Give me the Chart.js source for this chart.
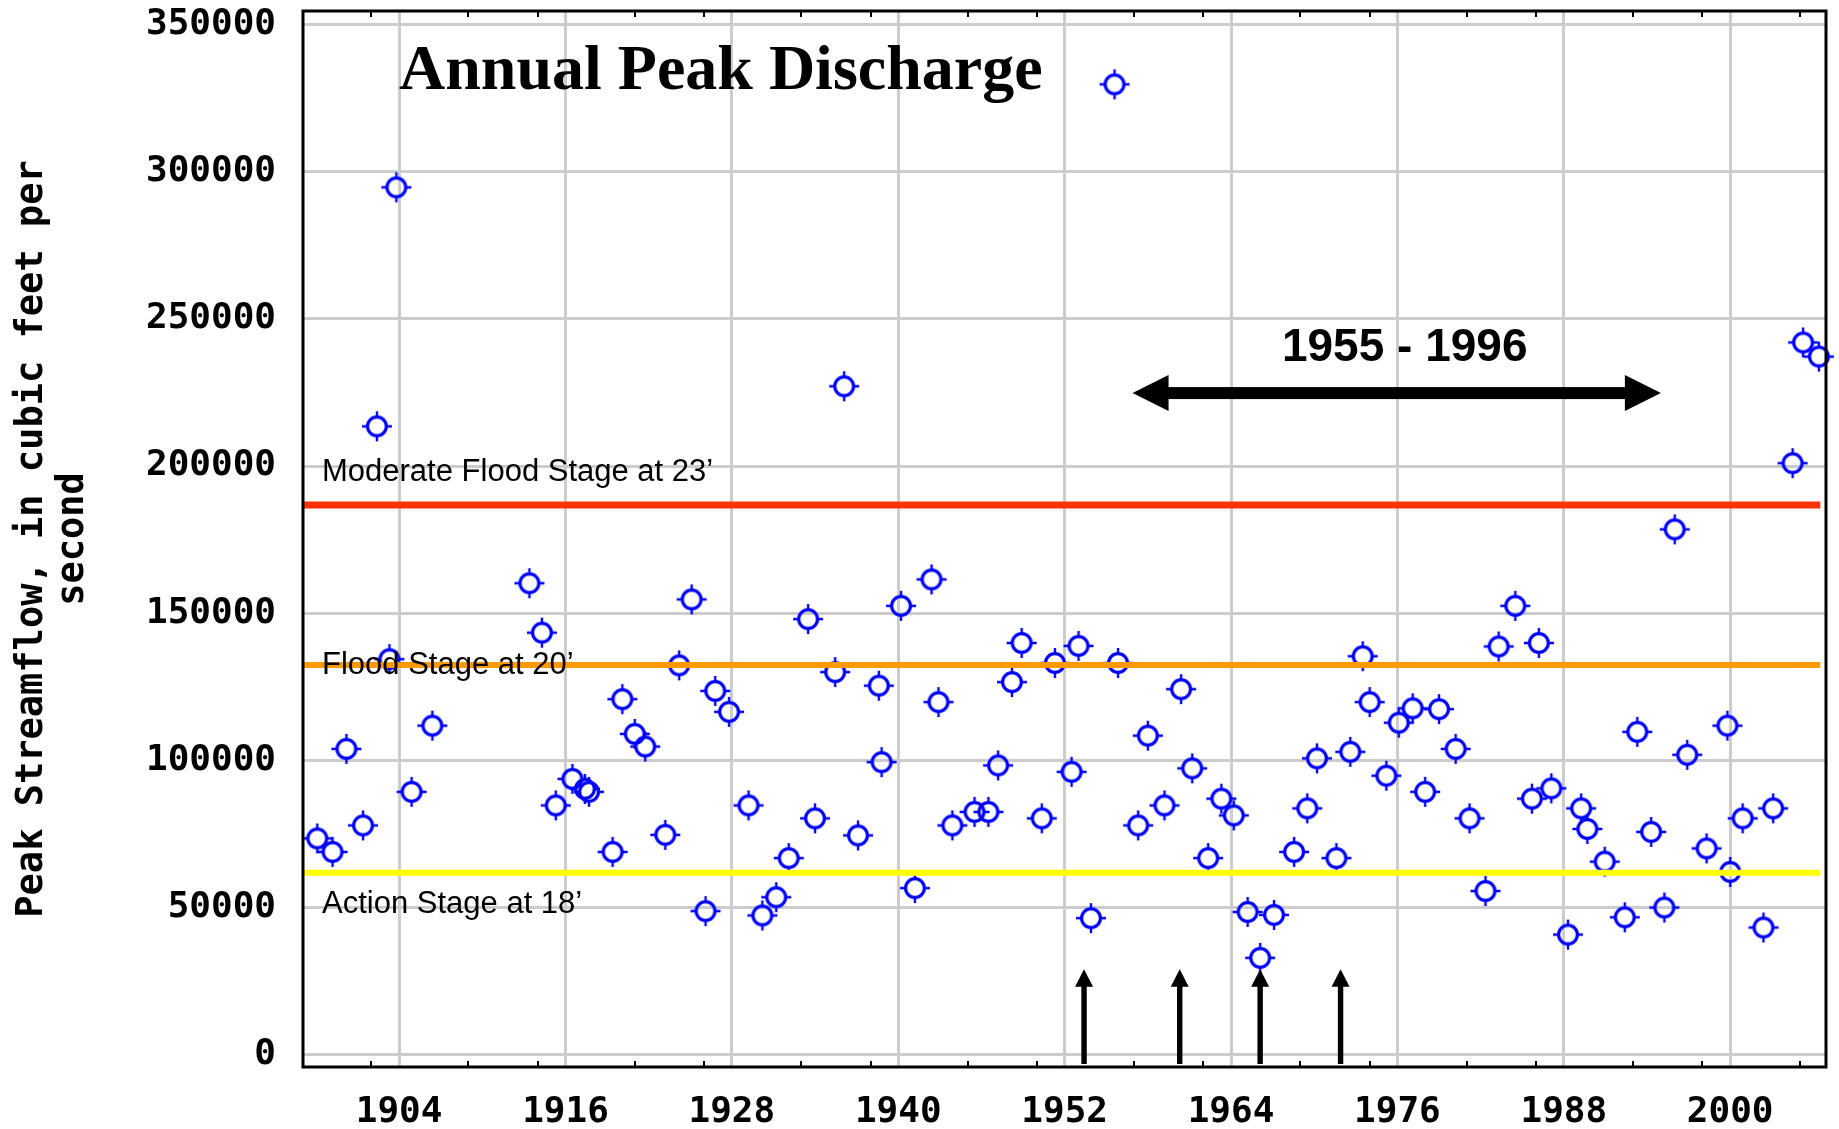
<!DOCTYPE html>
<html>
<head>
<meta charset="utf-8">
<title>Annual Peak Discharge</title>
<script src="https://cdn.jsdelivr.net/npm/chart.js@4.4.1/dist/chart.umd.min.js"></script>
<style>
  html, body { margin: 0; padding: 0; background: #fff; }
  #peakChart { display: block; }
</style>
</head>
<body>
<canvas id="peakChart" width="1839" height="1129"></canvas>
<script>
// annual peaks (x = date of peak in decimal years)
const peakYears = [
  1898.1, 1899.2, 1900.2, 1901.4, 1902.4, 1903.3, 1903.8, 1904.9, 1906.4,
  1913.4, 1914.3, 1915.3, 1916.5, 1917.4, 1917.7, 1919.4, 1920.1, 1921.0, 1921.75,
  1923.2, 1924.2, 1925.1, 1926.1, 1926.8, 1927.8, 1929.2, 1930.2, 1931.2, 1932.1,
  1933.5, 1934.0, 1935.45, 1936.1, 1937.1, 1938.6, 1938.8, 1940.2, 1941.2, 1942.4,
  1942.9, 1943.9, 1945.5, 1946.5, 1947.2, 1948.2, 1948.9, 1950.35, 1951.3, 1952.5,
  1953.0, 1953.9, 1955.6, 1955.85, 1957.3, 1958.0, 1959.2, 1960.4, 1961.2, 1962.35,
  1963.3, 1964.2, 1965.2, 1966.1, 1967.1, 1968.55, 1969.5, 1970.2, 1971.6, 1972.6,
  1973.5, 1974.0, 1975.2, 1976.1, 1977.1, 1978.0, 1979.0, 1980.2, 1981.2, 1982.35,
  1983.3, 1984.5, 1985.7, 1986.2, 1987.1, 1988.3, 1989.25, 1989.7, 1990.95, 1992.4,
  1993.3, 1994.3, 1995.25, 1996.0, 1996.9, 1998.3, 1999.8, 2000.0, 2000.9, 2002.4,
  2003.1, 2004.5, 2005.26, 2006.4
];
const peakFlows = [
  73500, 68900, 103900, 77900, 213500, 134400, 294700, 89300, 111800,
  160200, 143400, 84700, 93700, 90300, 89300, 68900, 120800, 109000, 104700,
  74700, 132300, 154700, 48800, 123600, 116500, 84700, 47300, 53500, 66800,
  148000, 80300, 130000, 227100, 74500, 125400, 99400, 152500, 56600, 161500,
  119800, 77900, 82500, 82500, 98300, 126600, 139900, 80300, 133100, 96100,
  138900, 46400, 329700, 133100, 77900, 108400, 84700, 124200, 97300, 66800,
  87000, 81300, 48500, 32900, 47500, 68900, 83700, 100700, 66800, 102900,
  135400, 119800, 94800, 112800, 117700, 89300, 117400, 103900, 80300, 55600,
  138700, 152500, 87000, 139900, 90500, 40800, 83700, 76700, 65600, 46700,
  109700, 75700, 50000, 178500, 101900, 70100, 111800, 62100, 80300, 43200,
  83700, 201000, 242000, 237200
];

// stage reference lines
const stageLabels = ["Moderate Flood Stage at 23\u2019", "Flood Stage at 20\u2019", "Action Stage at 18\u2019"];
const stageFlows = [186800, 132400, 61800];
const stageColors = ["#ff3300", "#ff9900", "#ffff00"];
const stageEndYear = 2006.5;

// axes
const xTickYears = [1904, 1916, 1928, 1940, 1952, 1964, 1976, 1988, 2000];
const minorTickYears = [1902, 1909, 1914, 1921, 1926, 1933, 1938, 1945, 1950, 1957,
  1962, 1969, 1974, 1981, 1986, 1993, 1998, 2005];
const yTickValues = [0, 50000, 100000, 150000, 200000, 250000, 300000, 350000];
const xMin = 1897.07, xMax = 2006.91;
const yMin = -4180, yMax = 354620;

// annotations
const periodLabel = "1955 - 1996";
const periodArrowYears = [1956.9, 1995.0];
const periodArrowFlow = 224800;
const markerArrowYears = [1953.4, 1960.3, 1966.1, 1971.9];
const markerArrowTipFlow = 29000;

const monoFont = "'DejaVu Sans Mono', monospace";

function makeMarker() {
  const c = document.createElement("canvas");
  c.width = 32;
  c.height = 32;
  const g = c.getContext("2d");
  g.strokeStyle = "#0000ff";
  g.lineWidth = 3.2;
  g.beginPath();
  g.arc(16, 16, 9.4, 0, Math.PI * 2);
  g.stroke();
  g.lineWidth = 2.4;
  g.beginPath();
  g.moveTo(16, 1); g.lineTo(16, 6);
  g.moveTo(16, 26); g.lineTo(16, 31);
  g.moveTo(1, 16); g.lineTo(6, 16);
  g.moveTo(26, 16); g.lineTo(31, 16);
  g.stroke();
  return c;
}

const stageDatasets = stageFlows.map((v, i) => ({
  type: "line",
  label: stageLabels[i],
  data: [{ x: xMin, y: v }, { x: stageEndYear, y: v }],
  borderColor: stageColors[i],
  borderWidth: i === 0 ? 7 : 6,
  pointRadius: 0,
  fill: false,
  order: 1,
}));

function arrowHead(ctx, tipX, tipY, dirX, dirY, len, half) {
  // dir is a unit vector pointing toward the tip
  const bx = tipX - dirX * len, by = tipY - dirY * len;
  ctx.beginPath();
  ctx.moveTo(tipX, tipY);
  ctx.lineTo(bx - dirY * half, by + dirX * half);
  ctx.lineTo(bx + dirY * half, by - dirX * half);
  ctx.closePath();
  ctx.fill();
}

const annotationsPlugin = {
  id: "annotations",
  afterDatasetsDraw(chart) {
    const { ctx, chartArea } = chart;
    const xs = chart.scales.x, ys = chart.scales.y;
    ctx.save();
    ctx.fillStyle = "#000";

    // stage labels
    const labelShift = [-32, 0, 32];
    ctx.font = "31px 'Liberation Sans', Arial, sans-serif";
    ctx.textAlign = "left";
    ctx.textBaseline = "middle";
    stageFlows.forEach((v, i) => {
      ctx.fillText(stageLabels[i], chartArea.left + 19, ys.getPixelForValue(v) + labelShift[i]);
    });

    // title
    ctx.font = "bold 64px 'Liberation Serif', 'Times New Roman', serif";
    ctx.textBaseline = "alphabetic";
    ctx.fillText("Annual Peak Discharge", chartArea.left + 96, chartArea.top + 78);

    // 1955 - 1996 double arrow
    const ax1 = xs.getPixelForValue(periodArrowYears[0]);
    const ax2 = xs.getPixelForValue(periodArrowYears[1]);
    const ay = ys.getPixelForValue(periodArrowFlow);
    ctx.fillRect(ax1 + 30, ay - 6, ax2 - ax1 - 60, 12);
    arrowHead(ctx, ax1, ay, -1, 0, 36, 18);
    arrowHead(ctx, ax2, ay, 1, 0, 36, 18);
    ctx.font = "bold 46px 'Liberation Sans', Arial, sans-serif";
    ctx.textAlign = "center";
    ctx.fillText(periodLabel, (ax1 + ax2) / 2 + 8, ay - 32);

    // vertical arrows along the bottom
    const tipY = ys.getPixelForValue(markerArrowTipFlow);
    markerArrowYears.forEach((yr) => {
      const px = xs.getPixelForValue(yr);
      ctx.fillRect(px - 2.7, tipY + 14, 5.4, chartArea.bottom - 3 - tipY - 14);
      arrowHead(ctx, px, tipY, 0, -1, 17.5, 9);
    });

    // frame and minor ticks
    ctx.strokeStyle = "#000";
    ctx.lineWidth = 3;
    ctx.strokeRect(chartArea.left, chartArea.top, chartArea.right - chartArea.left, chartArea.bottom - chartArea.top);
    ctx.lineWidth = 2;
    ctx.beginPath();
    minorTickYears.forEach((yr) => {
      const px = Math.round(xs.getPixelForValue(yr));
      ctx.moveTo(px, chartArea.bottom);
      ctx.lineTo(px, chartArea.bottom - 6);
      ctx.moveTo(px, chartArea.top);
      ctx.lineTo(px, chartArea.top + 6);
    });
    ctx.stroke();
    ctx.restore();
  },
};

function noPadding(scale) {
  scale.paddingTop = 0;
  scale.paddingBottom = 0;
  scale.paddingLeft = 0;
  scale.paddingRight = 0;
}

const ctx = document.getElementById("peakChart").getContext("2d");

const peakChart = new Chart(ctx, {
  type: "scatter",
  data: {
    datasets: [
      {
        label: "Annual peak",
        data: peakYears.map((yr, i) => ({ x: yr, y: peakFlows[i] })),
        pointStyle: makeMarker(),
        pointRadius: 10,
        showLine: false,
        clip: false,
        order: 2,
      },
      ...stageDatasets,
    ],
  },
  options: {
    responsive: false,
    devicePixelRatio: 1,
    animation: false,
    events: [],
    layout: {
      padding: { left: 0, top: 11, right: 13, bottom: 0 },
    },
    scales: {
      x: {
        type: "linear",
        min: xMin,
        max: xMax,
        afterBuildTicks: (scale) => {
          scale.ticks = xTickYears.map((v) => ({ value: v }));
        },
        afterFit: (scale) => {
          scale.height = 62;
          noPadding(scale);
        },
        grid: {
          color: "#cccccc",
          lineWidth: 3,
          drawTicks: false,
        },
        border: { display: false },
        ticks: {
          autoSkip: false,
          maxRotation: 0,
          padding: 24,
          color: "#000",
          font: { family: monoFont, size: 36, weight: "bold" },
          callback: (v) => String(v),
        },
      },
      y: {
        type: "linear",
        min: yMin,
        max: yMax,
        afterBuildTicks: (scale) => {
          scale.ticks = yTickValues.map((v) => ({ value: v }));
        },
        afterFit: (scale) => {
          scale.width = 303;
          noPadding(scale);
        },
        grid: {
          color: "#cccccc",
          lineWidth: 3,
          drawTicks: false,
        },
        border: { display: false },
        ticks: {
          padding: 27,
          color: "#000",
          font: { family: monoFont, size: 36, weight: "bold" },
          callback: (v) => String(v),
        },
        title: {
          display: true,
          text: ["Peak Streamflow, in cubic feet per", "second"],
          color: "#000",
          font: { family: monoFont, size: 37, weight: "bold", lineHeight: 1.11 },
          padding: { top: 12, bottom: 0 },
        },
      },
    },
    plugins: {
      legend: { display: false },
      tooltip: { enabled: false },
    },
  },
  plugins: [annotationsPlugin],
});
</script>
</body>
</html>
